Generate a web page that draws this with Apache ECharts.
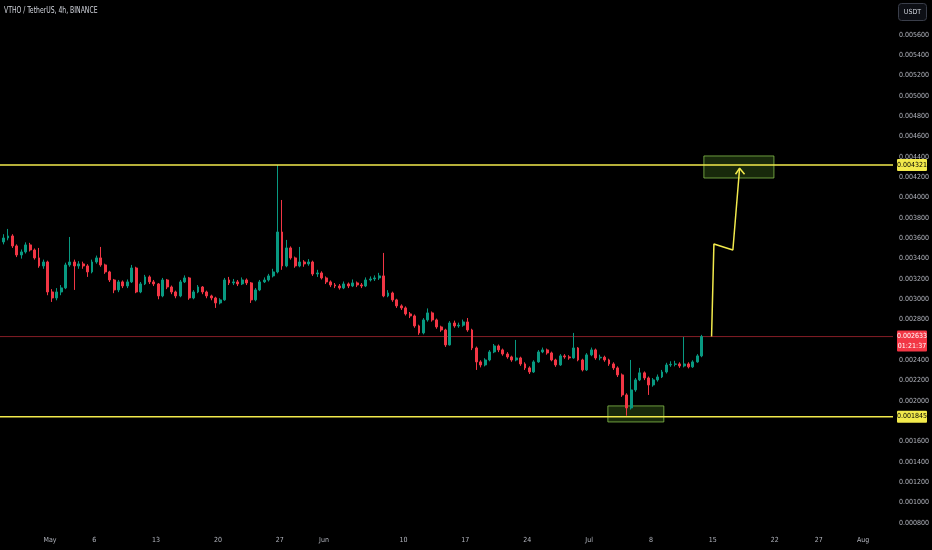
<!DOCTYPE html>
<html><head><meta charset="utf-8">
<script src="https://cdn.jsdelivr.net/npm/echarts@6/dist/echarts.min.js"></script>
<style>html,body{margin:0;padding:0;background:#000;}#c{width:932px;height:550px;}</style>
</head><body><div id="c"></div>
<script>
// ---- data (prices in millionths of USDT) ----
const PRICE_UNIT = 1e-6;
const firstOpen = 3564;
const candleStart = '2024-04-25T18:00:00Z';
const candleStepHours = 12;
const closes = [
3603,3623,3525,3436,3466,3535,3485,3407,3328,3367,
3072,3013,3072,3112,3338,3367,3328,3348,3328,3269,
3367,3407,3338,3269,3190,3092,3171,3131,3171,3308,
3072,3151,3220,3171,3151,3033,3190,3121,3072,3033,
3171,3210,3013,3072,3121,3072,3033,3013,2964,2994,
3190,3161,3171,3151,3190,3161,2994,3092,3171,3190,
3230,3269,3662,3328,3505,3407,3328,3367,3348,3367,
3249,3259,3210,3171,3141,3131,3112,3151,3131,3161,
3141,3131,3190,3200,3210,3230,3033,3062,2994,2935,
2915,2856,2836,2738,2669,2797,2866,2797,2728,2698,
2551,2767,2738,2745,2777,2698,2521,2384,2354,2403,
2482,2541,2502,2462,2433,2403,2423,2364,2325,2285,
2384,2482,2502,2472,2403,2354,2443,2433,2423,2521,
2403,2305,2453,2502,2423,2430,2403,2364,2325,2256,
2059,1931,2108,2207,2276,2226,2157,2207,2236,2285,
2354,2360,2364,2344,2364,2335,2384,2443,2633];
const highs = [
3640,3692,3640,3540,3490,3560,3555,3500,3505,3390,
3380,3100,3110,3140,3360,3613,3390,3375,3370,3345,
3390,3430,3515,3350,3280,3200,3190,3185,3195,3338,
3320,3170,3240,3235,3190,3160,3210,3200,3135,3085,
3190,3235,3220,3090,3140,3130,3085,3045,3025,3010,
3210,3220,3200,3190,3215,3205,3170,3110,3190,3215,
3250,3300,4321,3977,3584,3520,3420,3515,3385,3395,
3380,3290,3275,3225,3185,3160,3150,3175,3165,3195,
3175,3160,3215,3225,3235,3260,3456,3090,3075,3005,
2950,2930,2875,2850,2750,2815,2910,2880,2810,2740,
2710,2785,2790,2770,2800,2816,2710,2535,2400,2420,
2500,2560,2555,2515,2480,2445,2600,2435,2380,2340,
2400,2500,2525,2515,2485,2415,2460,2460,2450,2669,
2530,2415,2470,2525,2515,2455,2445,2415,2380,2340,
2270,2075,2403,2225,2325,2290,2240,2225,2260,2305,
2375,2390,2395,2380,2630,2380,2400,2460,2650];
const lows = [
3540,3580,3505,3415,3400,3450,3470,3390,3310,3300,
3040,2974,2990,3040,3100,3320,3092,3300,3300,3220,
3255,3350,3320,3250,3170,3060,3070,3110,3110,3160,
3060,3060,3140,3150,3130,3000,3020,3100,3050,3010,
3020,3160,2995,3000,3060,3050,3010,2990,2915,2950,
2985,3140,3140,3130,3140,3140,2964,2980,3080,3160,
3175,3215,3255,3290,3315,3390,3310,3315,3320,3330,
3230,3220,3195,3150,3120,3110,3095,3100,3110,3120,
3120,3110,3120,3175,3180,3190,3020,3020,2975,2915,
2895,2840,2815,2720,2650,2655,2780,2780,2710,2680,
2531,2545,2720,2720,2730,2680,2500,2305,2330,2340,
2390,2470,2480,2445,2415,2385,2390,2345,2305,2265,
2275,2375,2470,2455,2390,2335,2345,2415,2405,2415,
2390,2290,2295,2440,2405,2400,2385,2345,2305,2235,
2040,1855,1915,2090,2195,2205,2059,2140,2190,2225,
2270,2335,2340,2325,2330,2320,2325,2375,2430];

const timeLabelDates = ['2024-05-01','2024-05-06','2024-05-13','2024-05-20','2024-05-27','2024-06-01','2024-06-10','2024-06-17','2024-06-24','2024-07-01','2024-07-08','2024-07-15','2024-07-22','2024-07-27','2024-08-01'];
const timeLabels = ['May','6','13','20','27','Jun','10','17','24','Jul','8','15','22','27','Aug'];
const priceTicks = [0.0008,0.0010,0.0012,0.0014,0.0016,0.0020,0.0022,0.0024,0.0028,0.0030,0.0032,0.0034,0.0036,0.0038,0.0040,0.0042,0.0044,0.0046,0.0048,0.0050,0.0052,0.0054,0.0056];
const viewStart = '2024-04-25T08:12:00Z';
const viewEnd = '2024-08-04T09:22:00Z';
const priceMin = 0.0007105, priceMax = 0.0059443;

const resistance = 0.004321;
const support = 0.001845;
const lastPrice = 0.002633;
const countdown = '01:21:37';
const zoneStarts = ['2024-07-03T03:00:00Z','2024-07-13T23:45:00Z'];
const zoneEnds   = ['2024-07-09T11:00:00Z','2024-07-21T22:00:00Z'];
const zoneTops   = [0.001951, 0.004410];
const zoneBottoms= [0.001793, 0.004193];
const projTimes  = ['2024-07-14T20:40:00Z','2024-07-15T03:00:00Z','2024-07-17T06:30:00Z','2024-07-18T00:45:00Z'];
const projPrices = [0.002633, 0.003544, 0.003485, 0.004289];
const arrowTimes = ['2024-07-17T13:40:00Z','2024-07-18T00:45:00Z','2024-07-18T14:10:00Z'];
const arrowPrices= [0.004230, 0.004289, 0.004230];

// ---- build ----
const FONT = '"DejaVu Sans Condensed","Liberation Sans",sans-serif';
const t0 = Date.parse(candleStart), step = candleStepHours * 3600000;
const candleData = closes.map((c, i) => {
  const o = i === 0 ? firstOpen : closes[i - 1];
  return [t0 + i * step, o * PRICE_UNIT, c * PRICE_UNIT, lows[i] * PRICE_UNIT, highs[i] * PRICE_UNIT];
});
const labelTimes = timeLabelDates.map(d => Date.parse(d + 'T00:00:00Z'));
const labelFor = v => { let best = 0; labelTimes.forEach((t, k) => { if (Math.abs(t - v) < Math.abs(labelTimes[best] - v)) best = k; }); return timeLabels[best]; };
const xs = Date.parse(viewStart), xe = Date.parse(viewEnd);
const hLine = (v, color, width, z) => ({type: 'line', data: [[xs, v], [xe, v]], symbol: 'none', silent: true, z: z, lineStyle: {color: color, width: width}});

const YEL = '#f2ea4c';
const chart = echarts.init(document.getElementById('c'), null, {renderer: 'canvas'});
const baseGraphic = [
  {type: 'text', x: 4, y: 11, scaleX: 0.8, style: {text: 'VTHO / TetherUS, 4h, BINANCE', fill: '#d1d4dc', font: '8.5px ' + FONT, verticalAlign: 'middle'}},
  {type: 'rect', shape: {x: 898.5, y: 3.5, width: 28, height: 17, r: 3}, style: {fill: '#0d0f15', stroke: '#3a3e4a', lineWidth: 1}},
  {type: 'text', x: 912.5, y: 12, style: {text: 'USDT', fill: '#d1d4dc', font: '7px ' + FONT, align: 'center', verticalAlign: 'middle'}}
];
chart.setOption({
  animation: false,
  backgroundColor: '#000000',
  textStyle: {fontFamily: FONT},
  grid: {left: 0, right: 39, top: 0, bottom: 18, containLabel: false, outerBoundsMode: 'none'},
  xAxis: {
    type: 'value', min: xs, max: xe, scale: true,
    axisLine: {show: false}, axisTick: {show: false}, splitLine: {show: false},
    axisLabel: {customValues: labelTimes, formatter: v => labelFor(v), color: '#b2b5be', fontSize: 7, margin: 5, fontFamily: FONT}
  },
  yAxis: {
    type: 'value', position: 'right', min: priceMin, max: priceMax, scale: true,
    axisLine: {show: false}, axisTick: {show: false}, splitLine: {show: false},
    axisLabel: {customValues: priceTicks, formatter: v => v.toFixed(6), color: '#b2b5be', fontSize: 7, margin: 6, align: 'left', fontFamily: FONT}
  },
  series: [
    hLine(lastPrice, 'rgba(242,54,69,0.55)', 1, 1),
    {
      type: 'candlestick', data: candleData, encode: {x: 0, y: [1, 2, 3, 4]},
      barWidth: 2.4, z: 2,
      itemStyle: {color: '#089981', color0: '#f23645', borderColor: '#089981', borderColor0: '#f23645', borderWidth: 1},
      markArea: {
        silent: true,
        itemStyle: {color: 'rgba(110,185,50,0.22)', borderColor: 'rgba(140,200,80,0.75)', borderWidth: 1},
        data: zoneStarts.map((s, k) => [{coord: [Date.parse(s), zoneTops[k]]}, {coord: [Date.parse(zoneEnds[k]), zoneBottoms[k]]}])
      }
    },
    hLine(resistance, YEL, 1.5, 4),
    hLine(support, YEL, 1.5, 4),
    {
      type: 'line', data: projTimes.map((t, k) => [Date.parse(t), projPrices[k]]),
      symbol: 'none', lineStyle: {color: YEL, width: 1.5}, z: 5, silent: true
    },
    {
      type: 'line', data: arrowTimes.map((t, k) => [Date.parse(t), arrowPrices[k]]),
      symbol: 'none', lineStyle: {color: YEL, width: 1.5}, z: 5, silent: true
    }
  ],
  graphic: baseGraphic
});

// price tags on the right scale, positioned through the axis scale
const py = v => chart.convertToPixel({yAxisIndex: 0}, v);
const tag = (v, fill, color) => [
  {type: 'rect', z: 10, shape: {x: 897, y: py(v) - 6, width: 30, height: 12, r: 1}, style: {fill: fill}},
  {type: 'text', z: 11, x: 912, y: py(v), style: {text: v.toFixed(6), fill: color, font: '7px ' + FONT, align: 'center', verticalAlign: 'middle'}}
];
const yP = py(lastPrice);
chart.setOption({graphic: baseGraphic
  .concat(tag(resistance, YEL, '#000'))
  .concat(tag(support, YEL, '#000'))
  .concat([
    {type: 'rect', z: 10, shape: {x: 897, y: yP - 6, width: 30, height: 21, r: 1}, style: {fill: '#f23645'}},
    {type: 'text', z: 11, x: 912, y: yP, style: {text: lastPrice.toFixed(6), fill: '#ffffff', font: '7px ' + FONT, align: 'center', verticalAlign: 'middle'}},
    {type: 'text', z: 11, x: 912, y: yP + 9.5, style: {text: countdown, fill: '#ffffff', font: '7px ' + FONT, align: 'center', verticalAlign: 'middle'}}
  ])}, {replaceMerge: ['graphic']});
</script></body></html>
